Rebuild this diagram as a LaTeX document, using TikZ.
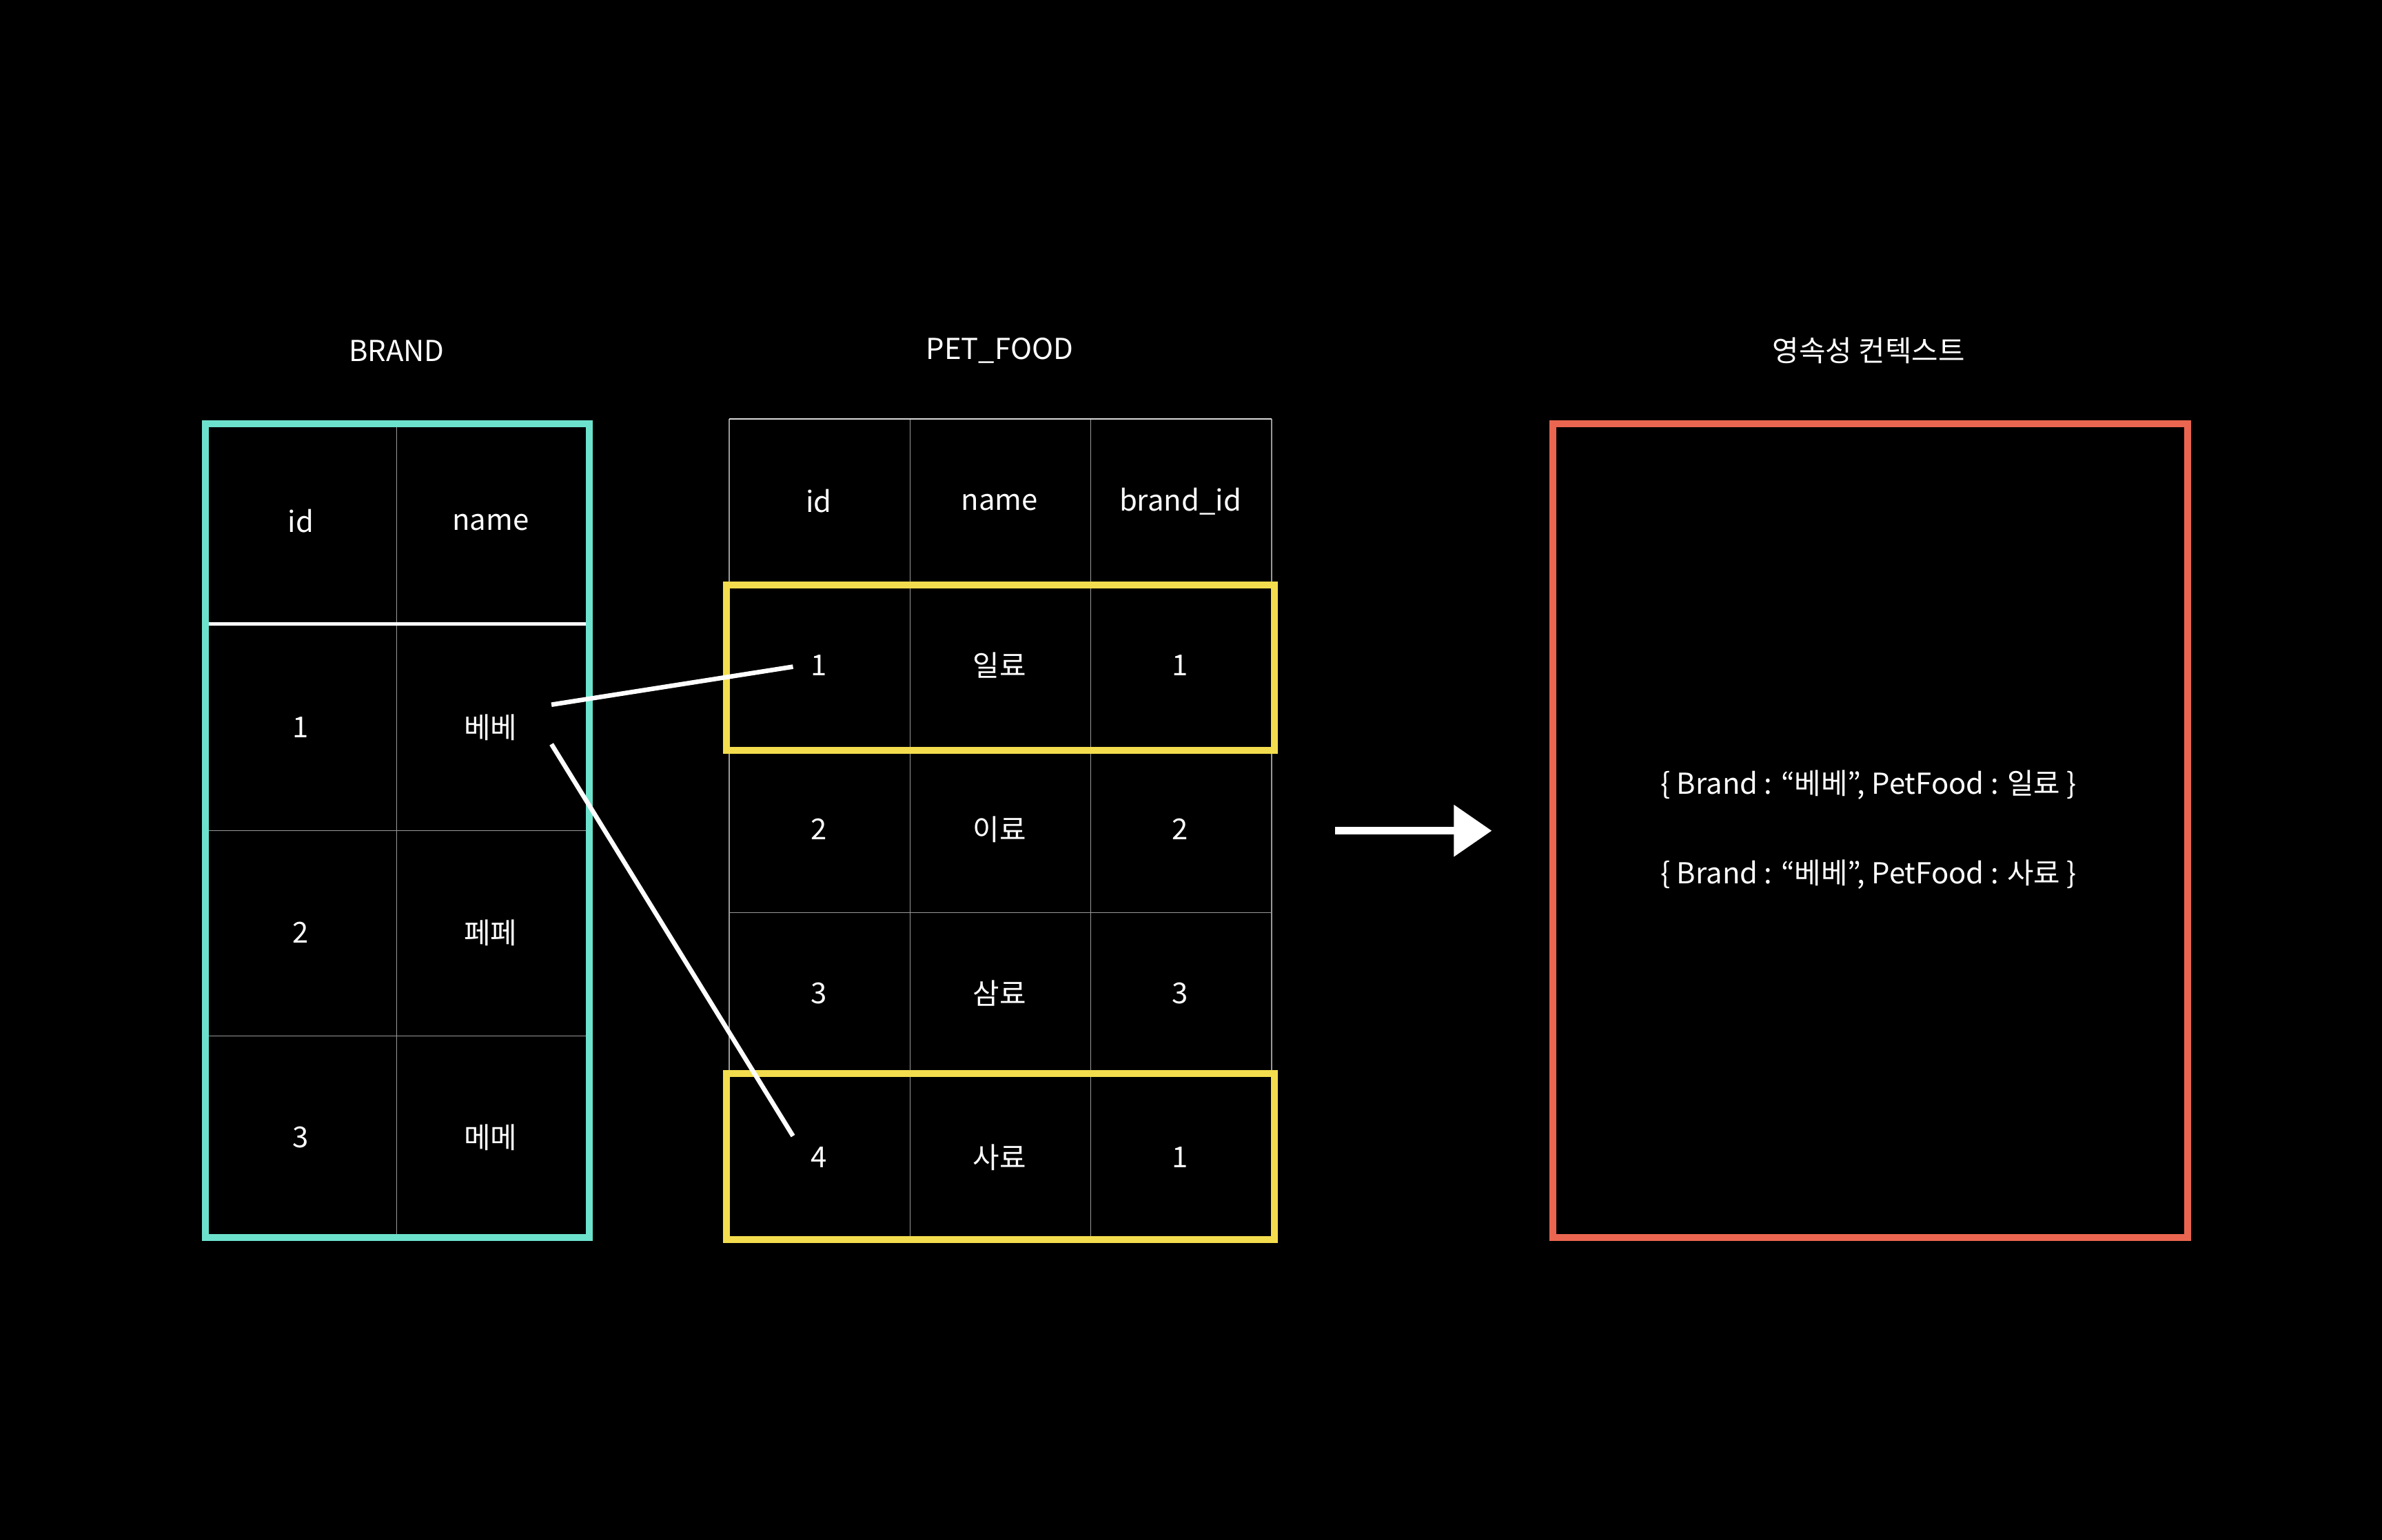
\documentclass[tikz,border=0pt]{standalone}
\usepackage{fontspec}
\setmainfont{Noto Sans CJK KR}
\usetikzlibrary{arrows.meta}
\definecolor{chalkteal}{HTML}{6CE2CC}
\definecolor{chalkyellow}{HTML}{F3DD4E}
\definecolor{chalkred}{HTML}{EA6650}
\definecolor{gridgray}{HTML}{999999}
\begin{document}
\begin{tikzpicture}[x=1pt,y=-1pt,
  txt/.style={text=white, font=\fontsize{19}{22}\selectfont, inner sep=0pt},
  gridline/.style={draw=gridgray, line width=0.6pt},
  tealbox/.style={draw=chalkteal, line width=4.5pt},
  yellowbox/.style={draw=chalkyellow, line width=4.5pt},
  redbox/.style={draw=chalkred, line width=4.5pt},
  link/.style={draw=white, line width=3pt},
  bigarrow/.style={draw=white, line width=5pt, -{Triangle[length=25pt,width=33pt]}}]
\fill[black] (0,0) rectangle (1568,1014);
\useasboundingbox (0,0) rectangle (1568,1014);

% ---------- BRAND ----------
\node[txt] (brandtitle) at (261,231) {BRAND};
\draw[gridline] (261,279) -- (261,815);
\draw[gridline] (135,547) -- (388,547);
\draw[gridline] (135,682) -- (388,682);
\draw[draw=white, line width=2.2pt] (135,411) -- (388,411);
\draw[tealbox] (135,279) rectangle (388,815);
\node[txt] (bh1) at (198,343) {id};
\node[txt] (bh2) at (323,344) {name};
\node[txt] (b11) at (198,479) {1};
\node[txt] (bebe) at (323,479) {베베};
\node[txt] (b21) at (198,614) {2};
\node[txt] (b22) at (323,614) {페페};
\node[txt] (b31) at (198,749) {3};
\node[txt] (b32) at (323,749) {메메};

% ---------- PET_FOOD ----------
\node[txt] (pettitle) at (658,231) {PET\_FOOD};
\draw[gridline] (480,276) rectangle (837,815);
\draw[gridline] (599,276) -- (599,815);
\draw[gridline] (718,276) -- (718,815);
\draw[gridline] (480,385) -- (837,385);
\draw[gridline] (480,493) -- (837,493);
\draw[gridline] (480,601) -- (837,601);
\draw[gridline] (480,708) -- (837,708);
\draw[draw=white!85!black, line width=0.8pt] (480,276) -- (837,276);
\draw[yellowbox] (478,385) rectangle (839,494);
\draw[yellowbox] (478,707) rectangle (839,816);
\node[txt] (ph1) at (539,330) {id};
\node[txt] (ph2) at (658,331) {name};
\node[txt] (ph3) at (777,330) {brand\_id};
\node[txt] (p11) at (539,438) {1};
\node[txt] (p12) at (658,438) {일료};
\node[txt] (p13) at (777,438) {1};
\node[txt] (p21) at (539,546) {2};
\node[txt] (p22) at (658,546) {이료};
\node[txt] (p23) at (777,546) {2};
\node[txt] (p31) at (539,654) {3};
\node[txt] (p32) at (658,654) {삼료};
\node[txt] (p33) at (777,654) {3};
\node[txt] (p41) at (539,762) {4};
\node[txt] (p42) at (658,762) {사료};
\node[txt] (p43) at (777,762) {1};

% ---------- links ----------
\coordinate (l1s) at (363,464);
\coordinate (l1e) at (522,439);
\coordinate (l2s) at (363,490);
\coordinate (l2e) at (522,748);
\draw[link] (l1s) -- (l1e);
\draw[link] (l2s) -- (l2e);

% ---------- arrow ----------
\coordinate (as) at (879,547);
\coordinate (ae) at (982,547);
\draw[bigarrow] (as) -- (ae);

% ---------- persistence context ----------
\node[txt] (ctxtitle) at (1230,231) {영속성 컨텍스트};
\draw[redbox] (1022,279) rectangle (1440,815);
\node[txt] (e1) at (1230,517) {\{ Brand : “베베”, PetFood : 일료 \}};
\node[txt] (e2) at (1230,576) {\{ Brand : “베베”, PetFood : 사료 \}};
\end{tikzpicture}
\end{document}
